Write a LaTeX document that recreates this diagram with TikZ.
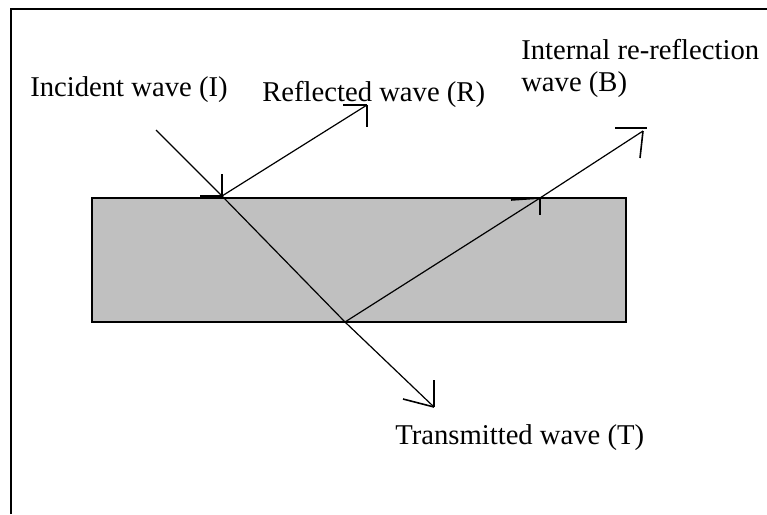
\documentclass[tikz,border=0pt]{standalone}
\usepackage{fontspec}
\setmainfont{Liberation Serif}
\begin{document}
\begin{tikzpicture}[x=0.75pt,y=-0.75pt,
  ray/.style={line width=0.9pt},
  barb/.style={line width=1.2pt},
  frameline/.style={line width=1.6pt},
  slabbox/.style={draw, line width=1.2pt, fill={rgb,255:red,192;green,192;blue,192},
    minimum width=400.5pt, minimum height=93pt, inner sep=0pt, outer sep=0pt, anchor=north west},
  lbl/.style={font=\fontsize{21.5}{25}\selectfont, anchor=base west, inner sep=0pt}]
\useasboundingbox (0,0) rectangle (767,514);
\fill[white] (0,0) rectangle (767,514);
% frame (left and top edges only)
\draw[frameline] (11,514) -- (11,9) -- (767,9);
% the slab
\node[slabbox] (slab) at (92,198) {};
% ray points
\coordinate (src) at (156,130);
\coordinate (P) at (222,196);
\coordinate (Q) at (345,322);
\coordinate (T) at (434,407);
\coordinate (R) at (367,105);
\coordinate (M) at (540,198);
\coordinate (B) at (643,131);
% rays
\draw[ray] (src) -- (P) -- (Q) -- (T);
\draw[ray] (P) -- (R);
\draw[ray] (Q) -- (M) -- (B);
% hand-drawn arrow barbs
\draw[barb] (P) -- ++(0,-22);
\draw[barb] (P) -- ++(-22,0);
\draw[barb] (R) -- ++(-24,0);
\draw[barb] (R) -- ++(0,22);
\draw[barb] (M) -- ++(-29,2);
\draw[barb] (M) -- ++(0,17);
\draw[barb] ([shift={(-28,-3)}]B) -- ++(32,0);
\draw[barb] (B) -- ++(-3,27);
\draw[barb] (T) -- ++(0,-27);
\draw[barb] (T) -- ++(-31,-8);
% labels
\node[lbl] (lI) at (30,96) {Incident wave (I)};
\node[lbl] (lR) at (262,101) {Reflected wave (R)};
\node[lbl] (lB1) at (521,59) {Internal re-reflection};
\node[lbl] (lB2) at (521,91) {wave (B)};
\node[lbl] (lT) at (395,444) {Transmitted wave (T)};
\end{tikzpicture}
\end{document}
